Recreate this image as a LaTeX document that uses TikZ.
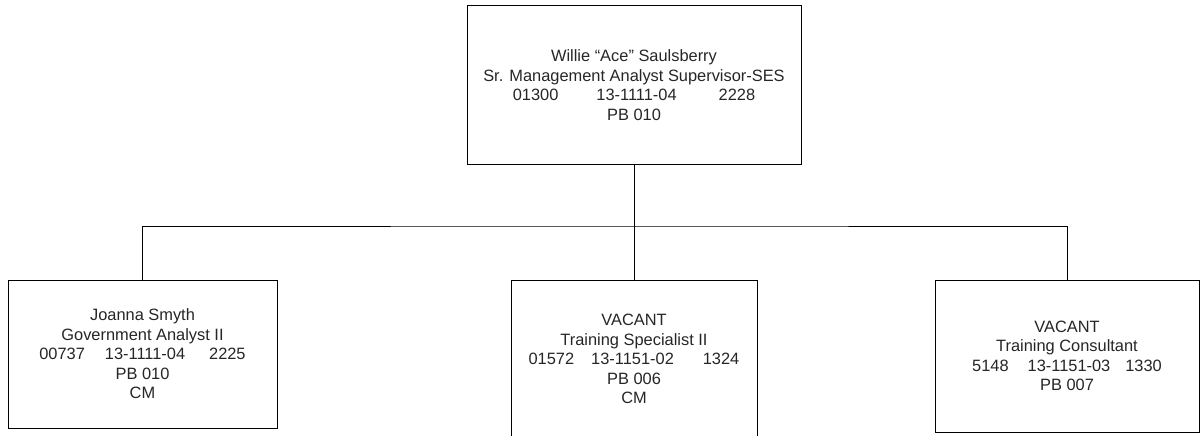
\documentclass[tikz,border=0pt]{standalone}
\usepackage{fontspec}
\setmainfont{Liberation Sans}
\begin{document}
\begin{tikzpicture}[x=1pt,y=-1pt,
  box/.style={draw, line width=1pt, inner sep=0pt, align=center, text=black!85,
    font=\fontsize{16.4}{19.5}\selectfont},
  link/.style={line width=1pt}]
\useasboundingbox[fill=white] (0,0) rectangle (1202,436);
\node[box, minimum width=334pt, minimum height=158pt] (top) at (634,85)
  {Willie “Ace” Saulsberry\\Sr. Management Analyst Supervisor-SES\\01300\hspace{38pt}13-1111-04\hspace{42pt}2228\\PB 010};
\node[box, minimum width=269pt, minimum height=148pt] (left) at (142.5,354)
  {Joanna Smyth\\Government Analyst II\\00737\hspace{20pt}13-1111-04\hspace{24pt}2225\\PB 010\\CM};
\node[box, minimum width=246pt, minimum height=158pt] (mid) at (634,359)
  {VACANT\\Training Specialist II\\01572\hspace{17pt}13-1151-02\hspace{29pt}1324\\PB 006\\CM};
\node[box, minimum width=264pt, minimum height=152pt] (right) at (1067,356)
  {VACANT\\Training Consultant\\5148\hspace{19pt}13-1151-03\hspace{15pt}1330\\PB 007};
\coordinate (bus) at (634,226);
\draw[link] (top.south) -- (mid.north);
\draw[link] (left.north) |- (bus) -| (right.north);
\end{tikzpicture}
\end{document}
